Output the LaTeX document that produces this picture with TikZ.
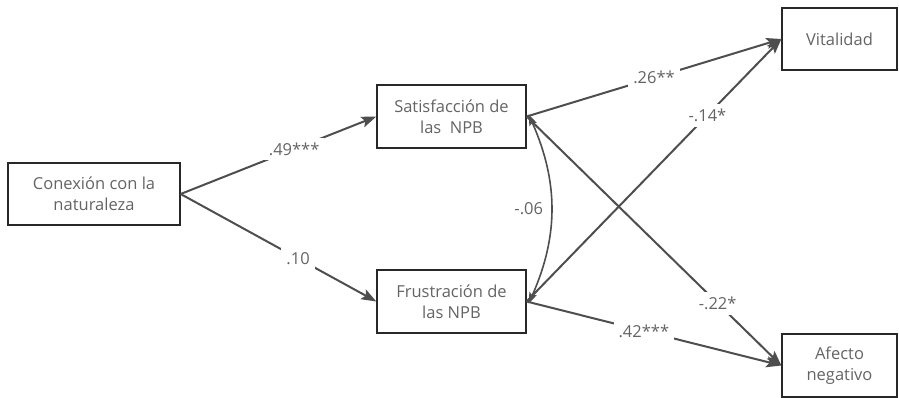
\documentclass[tikz,border=0pt]{standalone}
\usepackage{fontspec}
\setmainfont{Open Sans}
\usetikzlibrary{arrows.meta}
\definecolor{txtgray}{RGB}{100,100,100}
\definecolor{linegray}{RGB}{78,78,78}
\definecolor{boxline}{RGB}{40,40,40}
\tikzset{
  varbox/.style={draw=boxline, line width=1.3pt, rectangle, align=center,
    text=txtgray, font=\fontsize{16.5}{21}\selectfont, inner sep=0pt},
  path/.style={draw=linegray, line width=2pt,
    -{Stealth[length=15pt,width=11pt,inset=3pt]}},
  covpath/.style={draw=linegray, line width=1.6pt,
    {Stealth[length=11pt,width=8pt,inset=2pt]}-{Stealth[length=11pt,width=8pt,inset=2pt]}},
  coef/.style={fill=white, text=txtgray, font=\fontsize{16.5}{19}\selectfont,
    inner sep=5pt, sloped=false}
}
\begin{document}
\begin{tikzpicture}[x=1pt,y=-1pt]
\useasboundingbox (0,0) rectangle (899,398);

% latent and outcome variables
\node[varbox, minimum width=172pt, minimum height=62pt] (con) at (94,194) {Conexión con la\\naturaleza};
\node[varbox, minimum width=149pt, minimum height=63pt] (sat) at (451.5,116.5) {Satisfacción de\\las\ \ NPB};
\node[varbox, minimum width=149pt, minimum height=63pt] (fru) at (451.5,301.5) {Frustración de\\las NPB};
\node[varbox, minimum width=115pt, minimum height=62pt] (vit) at (839.5,39) {Vitalidad};
\node[varbox, minimum width=115pt, minimum height=63pt] (afe) at (839.5,365.5) {Afecto\\negativo};

% structural paths
\draw[path] (con.east) -- node[coef, pos=0.58] {.49***} (sat.west);
\draw[path] (con.east) -- node[coef, pos=0.6] {.10} (fru.west);
\draw[path] (sat.east) -- node[coef, pos=0.5] {.26**} (vit.west);
\draw[path] (fru.east) -- node[coef, pos=0.71] {-.14*} (vit.west);
\draw[path] (sat.east) -- node[coef, pos=0.75] {-.22*} (afe.west);
\draw[path] (fru.east) -- node[coef, pos=0.46] {.42***} (afe.west);

% covariance between the two mediators
\draw[covpath] ([xshift=2pt,yshift=2pt]sat.east) to[bend left=24]
  node[left, text=txtgray, font=\fontsize{16.5}{19}\selectfont, xshift=-4pt] (cov) {-.06}
  ([xshift=2pt,yshift=-2pt]fru.east);
\end{tikzpicture}
\end{document}
